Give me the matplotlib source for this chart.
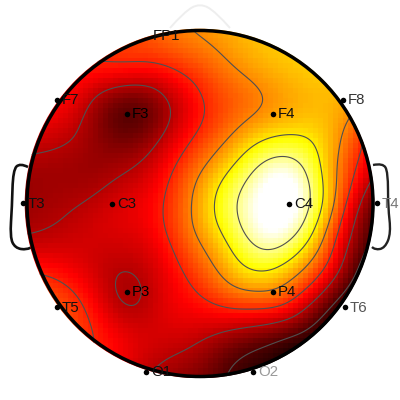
import numpy as np
import matplotlib
matplotlib.use("Agg")
import matplotlib.pyplot as plt
import matplotlib.tri as mtri
from matplotlib.patches import Circle, PathPatch
from matplotlib.path import Path

channels = ["FP1", "F7", "F3", "F4", "F8", "T3", "C3", "C4", "T4", "T5", "P3", "P4", "T6", "O1", "O2"]
chan_x = [148, 57, 127, 273, 343, 23, 112, 289, 377, 57, 127, 273, 345, 146, 253]
chan_y = [36, 100, 114, 114, 100, 203, 204, 204, 203, 307, 292, 292, 307, 372, 372]
label_colors = ["#111111", "#111111", "#000000", "#111111", "#333333", "#111111", "#111111", "#111111",
                "#777777", "#111111", "#000000", "#111111", "#555555", "#111111", "#999999"]

# Activation, on rows of grid_y and columns of grid_x
grid_x = [23, 57, 91, 125, 159, 193, 227, 261, 295, 329, 363, 397]
grid_y = [28, 67, 101, 135, 169, 203, 237, 271, 305, 339, 378]
row_033 = [.39, .39, .39, .41, .50, .56, .60, .64, .66, .67, .66, .60]
row_067 = [.38, .38, .39, .385, .385, .45, .535, .60, .64, .65, .60, .55]
row_101 = [.37, .36, .25, .14, .20, .355, .47, .54, .60, .62, .56, .42]
row_135 = [.31, .28, .21, .14, .23, .39, .53, .66, .70, .62, .42, .20]
row_169 = [.22, .22, .21, .24, .33, .50, .68, .89, .92, .62, .35, .10]
row_203 = [.21, .23, .26, .31, .38, .56, .79, 1.0, 1.0, .62, .22, .00]
row_237 = [.25, .27, .29, .30, .36, .53, .72, .93, .85, .49, .14, .00]
row_271 = [.40, .37, .30, .245, .31, .44, .60, .71, .59, .35, .05, .00]
row_305 = [.50, .47, .37, .24, .30, .36, .42, .44, .35, .11, .00, .00]
row_339 = [.46, .46, .41, .33, .29, .27, .20, .14, .07, .02, .00, .00]
row_373 = [.42, .42, .38, .30, .22, .17, .09, .05, .02, .00, .00, .00]
activation = np.array([row_033, row_067, row_101, row_135, row_169, row_203,
                       row_237, row_271, row_305, row_339, row_373])
contour_levels = [.10, .25, .40, .55, .70, .85]

ear_left_x = [28, 20, 13, 12, 10, 15, 27, 32]
ear_left_y = [167, 163, 170, 207, 237, 248, 250, 247]
ear_right_x = [373, 383, 388, 388, 391, 385, 375, 372]
ear_right_y = [165, 163, 172, 207, 233, 248, 250, 247]
nose_x = [170, 184, 200, 216, 230]
nose_y = [28, 12, 3, 12, 28]

cx, cy, head_r = 200.0, 203.5, 173.0

fig = plt.figure(figsize=(4, 4), dpi=100)
ax = fig.add_axes([0, 0, 1, 1])
ax.axis("off")

gx, gy = np.meshgrid(grid_x, grid_y)
tri = mtri.Triangulation(gx.ravel().astype(float), gy.ravel().astype(float))
interp = mtri.CubicTriInterpolator(tri, activation.ravel(), kind="min_E")

# 1 px field, gently blurred so that the contours are round
fine_x = np.arange(23.0, 397.0)
fine_y = np.arange(28.0, 378.0)
FX, FY = np.meshgrid(fine_x, fine_y)
Z = np.ma.filled(interp(FX, FY), 0.0)
sigma = 9.0
half = int(3 * sigma)
kernel = np.exp(-0.5 * (np.arange(-half, half + 1) / sigma) ** 2)
kernel /= kernel.sum()
Z = np.apply_along_axis(lambda r: np.convolve(np.pad(r, half, mode="edge"), kernel, mode="valid"), 1, Z)
Z = np.apply_along_axis(lambda c: np.convolve(np.pad(c, half, mode="edge"), kernel, mode="valid"), 0, Z)

# 5 px cells like the reference image
Z_img = Z[2::5, 2::5]
clip = Circle((cx - 0.5, cy), head_r + 1.8, transform=ax.transData)
im = ax.imshow(Z_img, cmap="hot", vmin=0, vmax=0.97, origin="upper", interpolation="nearest",
               extent=[23, 23 + 5 * Z_img.shape[1], 28 + 5 * Z_img.shape[0], 28], zorder=1)
im.set_clip_path(clip)
ax.set_xlim(0, 400)
ax.set_ylim(400, 0)

cs = ax.contour(FX, FY, Z, levels=contour_levels, colors="#505050", linewidths=0.8, zorder=2)
cs.set_clip_path(clip)

ax.add_patch(Circle((cx, cy), head_r, fill=False, ec="black", lw=2.5, zorder=4))

def smooth(xs, ys):
    verts = [(xs[0], ys[0])]
    codes = [Path.MOVETO]
    for i in range(1, len(xs) - 1):
        mid = ((xs[i] + xs[i + 1]) / 2, (ys[i] + ys[i + 1]) / 2)
        if i == len(xs) - 2:
            mid = (xs[-1], ys[-1])
        verts += [(xs[i], ys[i]), mid]
        codes += [Path.CURVE3, Path.CURVE3]
    return Path(verts, codes)

ax.add_patch(PathPatch(smooth(ear_left_x, ear_left_y), fill=False, ec="#111111", lw=1.9, zorder=0))
ax.add_patch(PathPatch(smooth(ear_right_x, ear_right_y), fill=False, ec="#222222", lw=1.7, zorder=0))
ax.add_patch(PathPatch(smooth(nose_x, nose_y), fill=False, ec="#eeeeee", lw=1.4, zorder=0))

for name, x, y, col in zip(channels, chan_x, chan_y, label_colors):
    t = ax.text(x + 5, y + 0.5, name, fontsize=10.8, family="Liberation Sans", color=col,
                va="center", ha="left", zorder=5, clip_on=False)
    if name == "FP1":
        t.set_clip_path(Circle((cx, cy), head_r, transform=ax.transData))
        continue
    ax.plot([x], [y], "o", ms=4.0, color="black", mew=0, zorder=5, clip_on=False)

fig.savefig("out.png", dpi=100)
